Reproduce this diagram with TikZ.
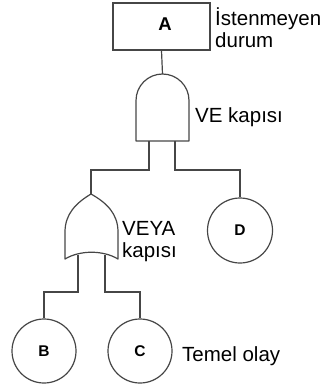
\documentclass[tikz,border=0pt]{standalone}
\usepackage{fontspec}
\setmainfont{Liberation Sans}
\definecolor{lineg}{RGB}{70,70,70}
\begin{document}
\begin{tikzpicture}[x=1pt,y=-1pt,
  wire/.style={draw=lineg, line width=1.2pt},
  shapeline/.style={draw=lineg, line width=1.2pt, line join=round},
  lbl/.style={anchor=base west, inner sep=0pt, font=\fontsize{20.5}{24}\selectfont},
  evt/.style={circle, draw=lineg, line width=1.2pt, minimum size=64pt, inner sep=0pt, font=\fontsize{15.5}{17}\selectfont\bfseries},
  topbox/.style={draw=lineg, line width=1.2pt, minimum width=97pt, minimum height=47pt, inner sep=0pt},
  topname/.style={inner sep=0pt, font=\fontsize{18.5}{20}\selectfont\bfseries}
]
\useasboundingbox (0,0) rectangle (322,385);
% top event
\node[topbox] (A) at (161.5,26.5) {};
\node[topname] (Aname) at (165,24) {A};
% AND gate
\draw[shapeline] (136,141) -- (136,100.5) arc[start angle=180,end angle=360,radius=26.5] -- (189,141) -- cycle;
\coordinate (andin) at (162.5,74);
\coordinate (andL) at (149,141);
\coordinate (andR) at (175,141);
% OR gate
\draw[shapeline] (91,194) .. controls (76,203) and (65,214) .. (65,232) -- (65,259)
  .. controls (80,250) and (103,250) .. (118,259) -- (118,232)
  .. controls (118,214) and (107,203) .. (91,194) -- cycle;
\coordinate (ortop) at (91,194);
\coordinate (orL) at (78,254.5);
\coordinate (orR) at (105,254.5);
% basic events
\node[evt, minimum size=65pt] (D) at (240,230.5) {D};
\node[evt] (B) at (44,351) {B};
\node[evt] (C) at (140,351) {C};
% connectors
\draw[wire] (A.south) -- (andin);
\draw[wire] (andL) -- ++(0,29) -| (ortop);
\draw[wire] (andR) -- ++(0,29) -| (D.north);
\draw[wire] (orL) -- ++(0,37.5) -| (B.north);
\draw[wire] (orR) -- ++(0,37.5) -| (C.north);
% labels
\node[lbl] (t1) at (215,26) {İstenmeyen};
\node[lbl] (t2) at (215,48) {durum};
\node[lbl] (t3) at (195,122) {VE kapısı};
\node[lbl] (t4) at (122,235) {VEYA};
\node[lbl] (t5) at (122,257) {kapısı};
\node[lbl] (t6) at (182,361) {Temel olay};
\end{tikzpicture}
\end{document}
